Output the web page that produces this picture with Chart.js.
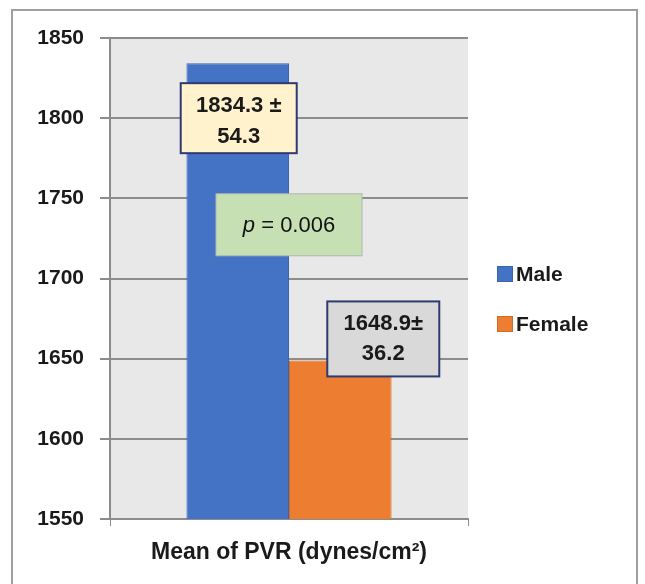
<!DOCTYPE html>
<html>
<head>
<meta charset="utf-8">
<script src="https://cdn.jsdelivr.net/npm/chart.js@4.4.1/dist/chart.umd.min.js"></script>
<style>
  html, body { margin: 0; padding: 0; background: #ffffff; }
  #wrap { position: relative; width: 645px; height: 584px; overflow: hidden; }
  #frame { position: absolute; left: 11px; top: 9px; width: 627px; height: 600px; border: 2px solid #9f9f9f; box-sizing: border-box; }
  #c { position: absolute; left: 0; top: 0; }
</style>
</head>
<body>
<div id="wrap">
  <div id="frame"></div>
  <canvas id="c" width="645" height="584"></canvas>
</div>
<script>
const categories = ['Mean of PVR (dynes/cm\u00B2)'];
const seriesNames = ['Male', 'Female'];
const maleValues = [1834.3];
const femaleValues = [1648.9];
const maleSD = [54.3];
const femaleSD = [36.2];
const pValueText = ['p', ' = 0.006'];
const yTicks = [1550, 1600, 1650, 1700, 1750, 1800, 1850];

const FONT = '"Liberation Sans", Arial, sans-serif';

const bgPlugin = {
  id: 'plotBg',
  beforeDraw(chart) {
    const a = chart.chartArea, ctx = chart.ctx;
    ctx.save();
    ctx.fillStyle = '#e8e8e8';
    ctx.fillRect(a.left, a.top, a.right - a.left, a.bottom - a.top);
    ctx.restore();
  }
};

function drawBox(ctx, cx, top, w, h, fill, stroke, lw) {
  ctx.fillStyle = fill;
  ctx.fillRect(cx - w / 2, top, w, h);
  ctx.strokeStyle = stroke;
  ctx.lineWidth = lw;
  ctx.strokeRect(cx - w / 2, top, w, h);
}

const annotPlugin = {
  id: 'annots',
  afterDatasetsDraw(chart) {
    const ctx = chart.ctx;
    const m = chart.getDatasetMeta(0).data[0];
    const f = chart.getDatasetMeta(1).data[0];
    const ys = chart.scales.y, xs = chart.scales.x;
    ctx.save();
    ctx.textAlign = 'center';
    ctx.textBaseline = 'middle';
    // Male label box
    drawBox(ctx, m.x + 1, m.y + 20, 116, 70, '#fff2cc', '#2f3a70', 2);
    ctx.fillStyle = '#1a1a1a';
    ctx.font = 'bold 22px ' + FONT;
    ctx.fillText(maleValues[0].toFixed(1) + ' \u00B1', m.x + 1, m.y + 43);
    ctx.fillText(maleSD[0].toFixed(1), m.x + 1, m.y + 74);
    // Female label box
    drawBox(ctx, f.x + 43, f.y - 59, 112, 75, '#d9d9d9', '#2f3a70', 2);
    ctx.fillStyle = '#1a1a1a';
    ctx.fillText(femaleValues[0].toFixed(1) + '\u00B1', f.x + 43, f.y - 36);
    ctx.fillText(femaleSD[0].toFixed(1), f.x + 43, f.y - 6);
    // p-value box
    const cx = xs.getPixelForValue(0);
    const cy = ys.getPixelForValue(1733.5);
    drawBox(ctx, cx, cy - 31, 146, 62, '#c6e0b4', '#b4b4b4', 1);
    ctx.fillStyle = '#111';
    ctx.font = 'italic 22px ' + FONT;
    const w1 = ctx.measureText(pValueText[0]).width;
    ctx.font = '22px ' + FONT;
    const w2 = ctx.measureText(pValueText[1]).width;
    const sx = cx - (w1 + w2) / 2;
    ctx.textAlign = 'left';
    ctx.font = 'italic 22px ' + FONT;
    ctx.fillText(pValueText[0], sx, cy + 1);
    ctx.font = '22px ' + FONT;
    ctx.fillText(pValueText[1], sx + w1, cy + 1);
    ctx.restore();
  }
};

const legendPlugin = {
  id: 'sideLegend',
  afterDraw(chart) {
    const ctx = chart.ctx;
    ctx.save();
    ctx.font = 'bold 21px ' + FONT;
    ctx.textBaseline = 'middle';
    ctx.textAlign = 'left';
    chart.data.datasets.forEach((ds, i) => {
      const y = 274 + i * 50;
      ctx.fillStyle = ds.backgroundColor;
      ctx.fillRect(497, y - 8, 16, 16);
      ctx.strokeStyle = ds.borderColor;
      ctx.lineWidth = 1;
      ctx.strokeRect(497.5, y - 7.5, 15, 15);
      ctx.fillStyle = '#1a1a1a';
      ctx.fillText(ds.label, 516, y + 1);
    });
    ctx.restore();
  }
};

new Chart(document.getElementById('c'), {
  type: 'bar',
  data: {
    labels: categories,
    datasets: [
      { label: seriesNames[0], data: maleValues, backgroundColor: '#4472c4', borderColor: '#3b64ad', borderWidth: 1 },
      { label: seriesNames[1], data: femaleValues, backgroundColor: '#ed7d31', borderColor: '#d06a25', borderWidth: 1 }
    ]
  },
  options: {
    responsive: false,
    animation: false,
    devicePixelRatio: 1,
    layout: { padding: { top: 38, left: 0, right: 177, bottom: 0 } },
    datasets: { bar: { categoryPercentage: 0.573, barPercentage: 1.0 } },
    plugins: { legend: { display: false }, tooltip: { enabled: false } },
    scales: {
      x: {
        offset: true,
        grid: { display: true, drawOnChartArea: false, drawTicks: true, tickLength: 7, color: '#8c8c8c', offset: true },
        border: { display: true, color: '#8c8c8c', width: 2 },
        ticks: { color: '#1a1a1a', font: { family: FONT, size: 23, weight: 'bold' }, padding: 13 },
        afterFit(s) { s.height = 65; }
      },
      y: {
        min: yTicks[0],
        max: yTicks[yTicks.length - 1],
        afterBuildTicks(s) { s.ticks = yTicks.map(v => ({ value: v })); },
        grid: { color: '#8c8c8c', lineWidth: 2, tickLength: 10 },
        border: { display: true, color: '#8c8c8c', width: 2 },
        ticks: { color: '#1a1a1a', font: { family: FONT, size: 21, weight: 'bold' }, padding: 16, callback: (v) => String(v) },
        afterFit(s) { s.width = 110; }
      }
    }
  },
  plugins: [bgPlugin, annotPlugin, legendPlugin]
});
</script>
</body>
</html>
